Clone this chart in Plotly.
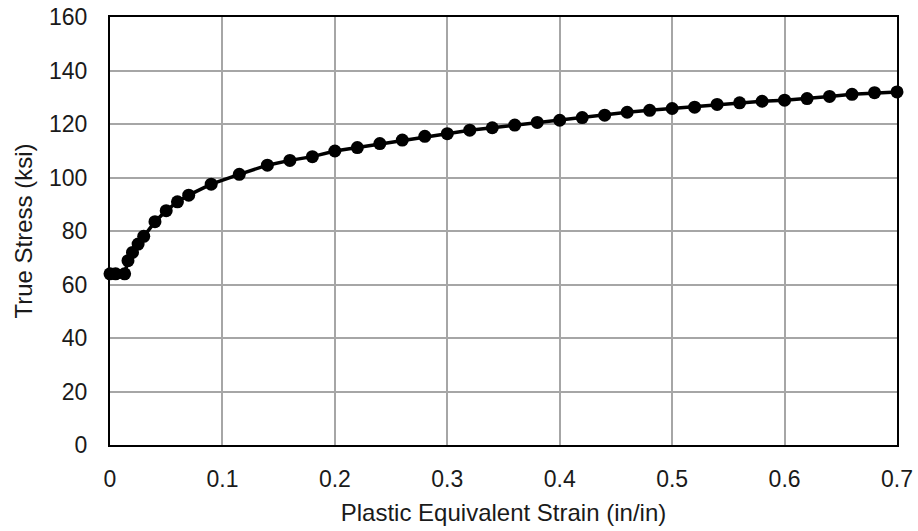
import plotly.graph_objects as go

strain = [0, 0.005, 0.013, 0.016, 0.02, 0.025, 0.03, 0.04, 0.05, 0.06, 0.07, 0.09, 0.115, 0.14, 0.16,
          0.18, 0.20, 0.22, 0.24, 0.26, 0.28, 0.30, 0.32, 0.34, 0.36, 0.38, 0.40, 0.42,
          0.44, 0.46, 0.48, 0.50, 0.52, 0.54, 0.56, 0.58, 0.60, 0.62, 0.64, 0.66, 0.68, 0.70]
stress = [64, 64, 64, 68.9, 72, 75.1, 78, 83.5, 87.6, 90.9, 93.4, 97.5, 101.2, 104.6, 106.4,
          107.8, 109.9, 111.2, 112.7, 114.0, 115.4, 116.4, 117.7, 118.6, 119.6, 120.6, 121.4, 122.4,
          123.3, 124.4, 125.1, 125.8, 126.3, 127.3, 127.9, 128.5, 128.9, 129.5, 130.3, 131.1, 131.7, 132.0]

x_ticks = [0, 0.1, 0.2, 0.3, 0.4, 0.5, 0.6, 0.7]
x_tick_labels = ["0", "0.1", "0.2", "0.3", "0.4", "0.5", "0.6", "0.7"]
y_ticks = [0, 20, 40, 60, 80, 100, 120, 140, 160]

fig = go.Figure(go.Scatter(
    x=strain, y=stress, mode="lines+markers",
    line=dict(color="black", width=3.5),
    marker=dict(color="black", size=13),
    cliponaxis=False,
))

fam = "Liberation Sans, Arial, sans-serif"
tick_font = dict(family=fam, size=23, color="#1a1a1a")
title_font = dict(family=fam, size=24, color="#1a1a1a")

fig.update_layout(
    width=918, height=531,
    margin=dict(l=110, r=21, t=17, b=86, autoexpand=False),
    paper_bgcolor="white", plot_bgcolor="white",
    showlegend=False,
    font=tick_font,
    xaxis=dict(
        range=[0, 0.7], tickvals=x_ticks, ticktext=x_tick_labels,
        showgrid=True, gridcolor="#a6a6a6", gridwidth=1.5,
        showline=True, linecolor="black", linewidth=2, mirror=True,
        zeroline=False, ticks="", ticklen=0, ticklabelstandoff=12,
        tickfont=tick_font, automargin=False,
        title=dict(text="Plastic Equivalent Strain (in/in)", standoff=14, font=title_font),
    ),
    yaxis=dict(
        range=[0, 160], tickvals=y_ticks,
        showgrid=True, gridcolor="#a6a6a6", gridwidth=1.5,
        showline=True, linecolor="black", linewidth=2, mirror=True,
        zeroline=False, ticks="", ticklen=0, ticklabelstandoff=16,
        tickfont=tick_font, automargin=False,
        title=dict(text="True Stress (ksi)", standoff=10, font=title_font),
    ),
)

fig.write_html("out.html")
